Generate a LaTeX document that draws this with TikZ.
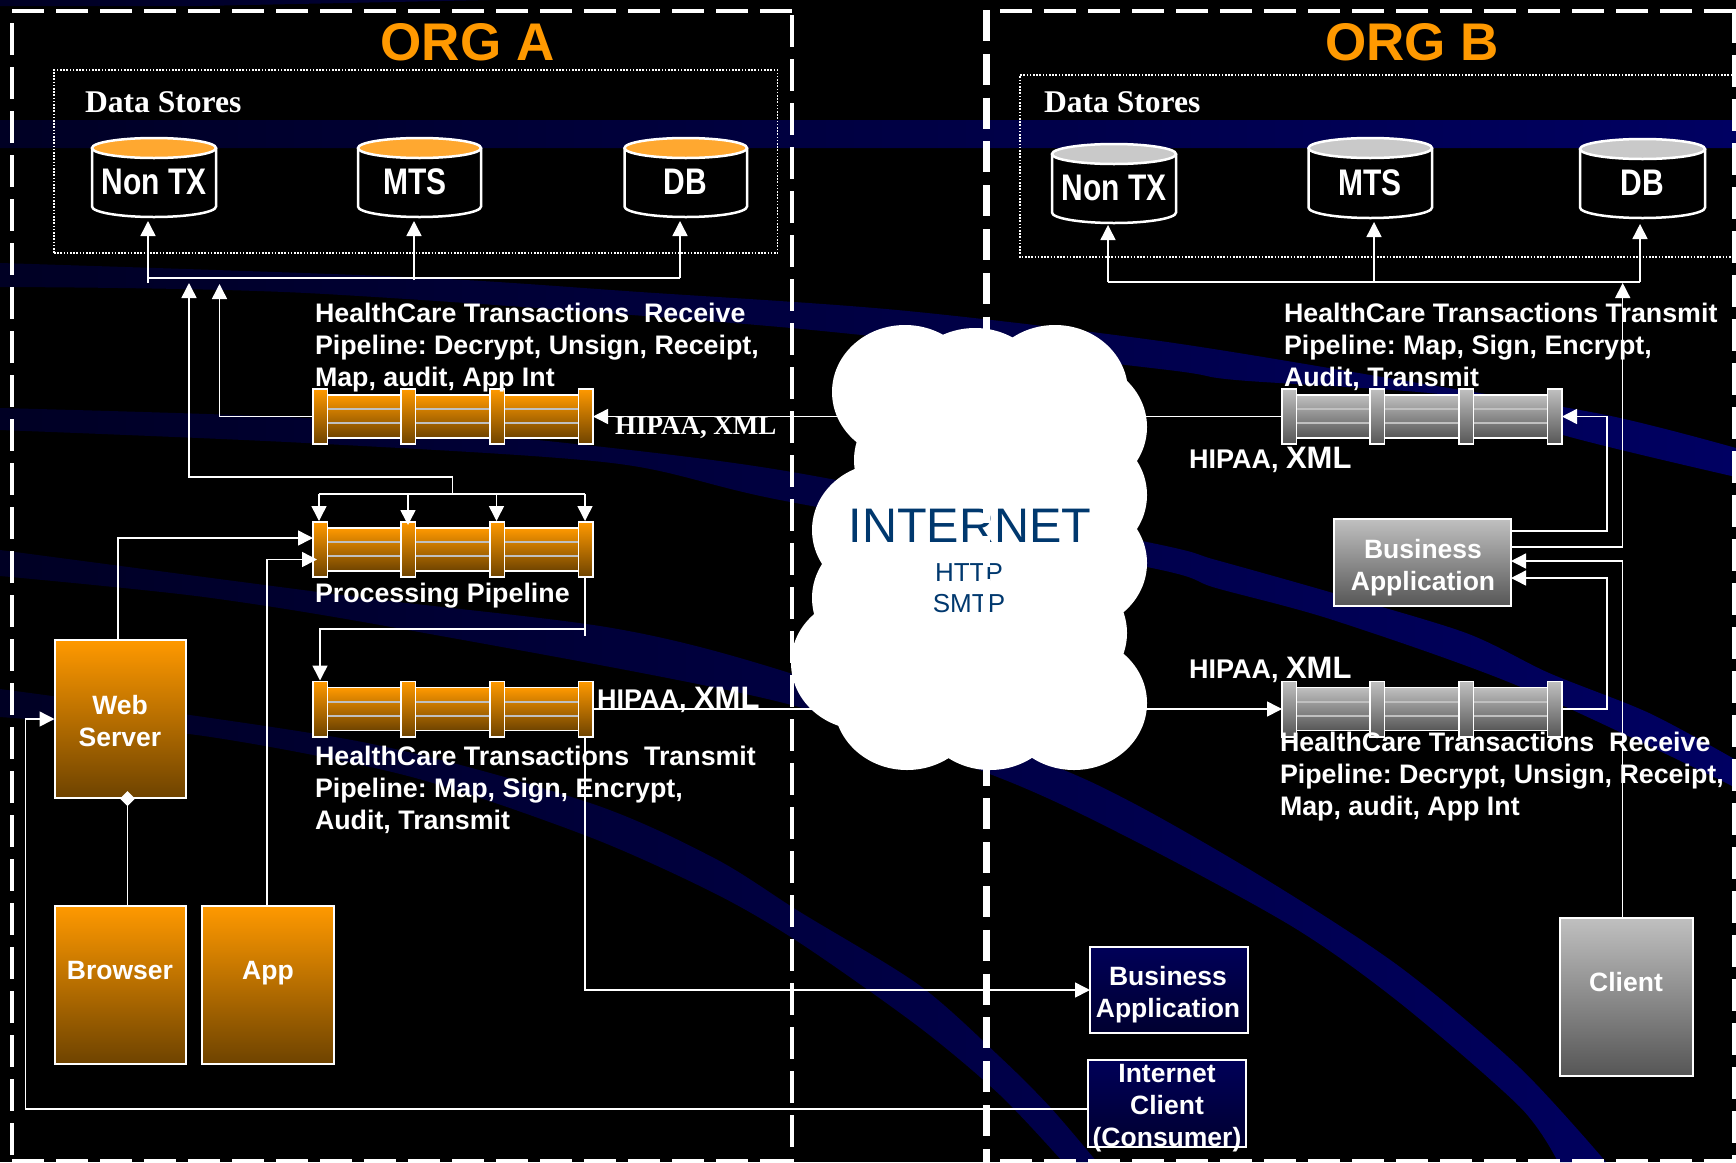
\documentclass[tikz,border=0pt]{standalone}
\usepackage{fontspec}
\setmainfont{Liberation Sans}
\newfontfamily\timesf{Liberation Serif}
\usetikzlibrary{arrows.meta}
\definecolor{orgO}{HTML}{FF9900}
\definecolor{orgT}{HTML}{FFA830}
\definecolor{orgD}{HTML}{6E4300}
\definecolor{gryT}{HTML}{C0C0C0}
\definecolor{gryD}{HTML}{565656}
\definecolor{netB}{HTML}{00386E}
\definecolor{navT}{HTML}{000058}
\definecolor{navD}{HTML}{000030}
\definecolor{navL}{HTML}{000024}
\definecolor{navM}{HTML}{00005C}
\definecolor{navR}{HTML}{000062}
\newcommand\fsz[2]{\fontsize{#1}{#2}\selectfont}
\newcommand\nar[2]{\scalebox{#1}[1]{#2}}
\tikzset{
  cn/.style={draw=white,line width=1.5pt},
  arr/.style={cn,-{Triangle[length=15pt,width=15pt]}},
  frameH/.style={draw=white,line width=4pt,dash pattern=on 32pt off 12pt},
  frameA/.style={draw=white,line width=3.5pt,dash pattern=on 32pt off 12pt},
  frameB/.style={draw=white,line width=7pt,dash pattern=on 31pt off 12.8pt},
  dots/.style={draw=white,line width=1.6pt,dash pattern=on 1.6pt off 1.6pt},
  hold/.style={inner sep=0pt,outer sep=0pt},
  boxO/.style={hold,draw=white,line width=2pt,top color=orgO,bottom color=orgD},
  boxG/.style={hold,draw=white,line width=2pt,top color=gryT,bottom color=gryD},
  boxN/.style={hold,draw=white,line width=2pt,top color=navT,bottom color=navD},
  lab/.style={hold,text=white,font=\fsz{26.5}{32}\bfseries,align=center},
  capt/.style={hold,text=white,font=\fsz{26.8}{32}\bfseries,align=left,anchor=north west},
  title/.style={hold,text=orgO,font=\fsz{53}{60}\bfseries,anchor=base},
  store/.style={hold,text=white,font=\timesf\fsz{31.6}{36}\bfseries,anchor=base west},
  cyltx/.style={hold,text=white,font=\fsz{37}{40}\bfseries},
  ser/.style={hold,text=white,font=\timesf\fsz{27}{30}\bfseries,anchor=base west},
  hip/.style={hold,text=white,font=\fsz{27}{30}\bfseries,anchor=base west},
  lobe/.style={fill=white},
}
% name, x1, x2, y1, y2, top colour, text, text x, text y
\newcommand\cyl[9]{%
  \node[hold,minimum width=#3pt-#2pt,minimum height=#5pt-#4pt] (#1) at ({(#2+#3)/2},{(#4+#5)/2}) {};
  \draw[white,line width=2.5pt,fill=black]
    ({#2+1},{#4+11}) -- ({#2+1},{#5-11.5}) arc[start angle=180,end angle=360,x radius={(#3-#2)/2-1},y radius=-10.5]
    -- ({#3-1},{#4+11});
  \filldraw[white,line width=2.5pt,fill=#6] ({(#2+#3)/2},{#4+11}) ellipse[x radius={(#3-#2)/2-1},y radius=10];
  \node[cyltx] (#1t) at (#8,#9) {#7};
}
% name, centre x, top y, colour top, colour bottom
\newcommand\pipe[5]{%
  \node[hold,minimum width=280pt,minimum height=57pt] (#1) at (#2,{#3+28.5}) {};
  \begin{scope}[shift={({#2-140},#3)}]
    \foreach \a/\b in {14.5/88,102.5/177,191.5/265.5}{
      \path[draw=white,line width=1.6pt,top color=#4,bottom color=#5] (\a,7) rectangle (\b,50);
      \draw[gryT,line width=2pt] (\a,21) -- (\b,21) (\a,35) -- (\b,35);
    }
    \foreach \a in {0,88,177,265.5}{
      \path[draw=white,line width=1.6pt,top color=#4,bottom color=#5] (\a,0.8) rectangle ({\a+14.5},56.2);
    }
  \end{scope}
}
\begin{document}
\frenchspacing
\begin{tikzpicture}[x=1pt,y=-1pt]
\useasboundingbox (0,0) rectangle (1736,1162);
\fill[black] (0,0) rectangle (1736,1162);
% background swooshes
\begin{scope}
\clip (0,120) rectangle (1736,148)
  (0,0) -- (490,0) -- (200,6) -- (0,6) -- cycle
  plot[smooth] coordinates {(0,263)(408,277)(640,292)(897,310)(1160,341)(1400,380)(1606,415)(1736,448)}
    -- plot[smooth] coordinates {(1736,477)(1563,435)(1463,397)(1236,380)(1160,369)(780,327)(306,293)(0,287)} -- cycle
  plot[smooth] coordinates {(0,408)(306,418)(510,437)(780,470)(1147,542)(1216,560)(1333,593)(1466,633)(1549,673)(1649,713)(1736,760)}
    -- plot[smooth] coordinates {(1736,790)(1716,778)(1516,685)(1333,620)(1216,588)(1147,567)(780,500)(612,463)(306,443)(0,430)} -- cycle
  plot[smooth] coordinates {(0,550)(357,597)(612,628)(780,670)(1033,758)(1133,803)(1267,880)(1400,967)(1520,1068)(1606,1162)}
    -- plot[smooth] coordinates {(1558,1162)(1520,1107)(1400,1003)(1293,927)(1133,840)(1000,778)(780,702)(408,630)(204,597)(0,576)} -- cycle
  plot[smooth] coordinates {(0,689)(357,741)(587,802)(714,858)(800,912)(919,985)(1000,1057)(1050,1107)(1097,1162)}
    -- plot[smooth] coordinates {(1063,1162)(1000,1095)(919,1027)(800,943)(714,893)(587,836)(408,776)(204,736)(0,717)} -- cycle;
\shade[left color=navL,middle color=navM,right color=navR] (0,0) rectangle (1736,1162);
\end{scope}
% boxes as nodes
\node[boxO,minimum width=131.5pt,minimum height=158pt] (web) at (120.25,719) {};
\node[boxO,minimum width=131.5pt,minimum height=158pt] (browser) at (120.25,985) {};
\node[boxO,minimum width=132pt,minimum height=158pt] (app) at (268,985) {};
\node[boxN,minimum width=158pt,minimum height=86.5pt] (bizO) at (1169,990) {};
\node[boxN,minimum width=158pt,minimum height=87pt] (inet) at (1167,1103.5) {};
\node[boxG,minimum width=177pt,minimum height=87pt] (bizB) at (1422.5,562.5) {};
\node[boxG,minimum width=133pt,minimum height=158pt] (client) at (1626.5,996.5) {};
% data stores
\node[hold,dots,minimum width=723.5pt,minimum height=183pt] (dsA) at (415.75,161.5) {};
\draw[dots] (1745,75) -- (1020,75) -- (1020,257) -- (1745,257);
\cyl{ntxA}{91}{217}{137}{218}{orgT}{\nar{.81}{Non TX}}{154}{182}
\cyl{mtsA}{357}{482}{137}{218}{orgT}{\nar{.81}{MTS}}{415}{182}
\cyl{dbA}{623.5}{748}{137}{218}{orgT}{\nar{.81}{DB}}{685}{182}
\cyl{ntxB}{1051}{1177}{143}{224}{gryT!85!white}{\nar{.81}{Non TX}}{1114}{188}
\cyl{mtsB}{1307.5}{1433}{137}{219}{gryT!85!white}{\nar{.81}{MTS}}{1370}{183}
\cyl{dbB}{1579}{1706}{138}{219}{gryT!85!white}{\nar{.81}{DB}}{1642}{183}
% pipelines
\pipe{rcvA}{453}{388}{orgO}{orgD}
\pipe{procP}{453}{521}{orgO}{orgD}
\pipe{txA}{453}{680.5}{orgO}{orgD}
\pipe{txB}{1422}{388}{gryT}{gryD}
\pipe{rcvB}{1422}{680.5}{gryT}{gryD}
% connectors, org A
\coordinate (busA0) at (148,283);
\coordinate (busA1) at (414,280);
\coordinate (busA2) at (680,278);
\draw[arr,shorten >=3pt] (busA0) -- (ntxA.south -| busA0);
\draw[arr,shorten >=3pt] (busA1) -- (mtsA.south -| busA1);
\draw[arr,shorten >=3pt] (busA2) -- (dbA.south -| busA2);
\draw[cn] (busA0 |- busA2) -- (busA2);
\coordinate (busP) at (452.5,494);
\coordinate (upA1) at (189,283);
\coordinate (upA2) at (219.5,284);
\draw[arr] (busP) |- (upA1 |- 0,477) -- (upA1);
\draw[arr] (rcvA.west) -| (upA2);
\draw[cn] (319,494) -- (585,494);
\coordinate (pd1) at (319,494);
\coordinate (pd2) at (408,494);
\coordinate (pd3) at (496.5,494);
\coordinate (pd4) at (585,494);
\draw[arr] (pd1) -- (procP.north -| pd1);
\draw[arr,shorten >=-4pt] (pd2) -- (procP.north -| pd2);
\draw[arr] (pd3) -- (procP.north -| pd3);
\draw[arr] (pd4) -- (procP.north -| pd4);
\coordinate (wsUp) at (118,538);
\coordinate (apUp) at (267,559.5);
\draw[arr] (web.north -| wsUp) |- (procP.west |- wsUp);
\draw[arr,shorten >=-4pt] (app.north -| apUp) |- (procP.west |- apUp);
\coordinate (brUp) at (127.5,800);
\draw[cn,-{Diamond[length=15pt,width=15pt]},shorten >=-7pt] (browser.north -| brUp) -- (web.south -| brUp);
\coordinate (pp1) at (585,636);
\coordinate (pp2) at (585,629);
\coordinate (pp3) at (320,629);
\draw[cn] (procP.south -| pp1) -- (pp1);
\draw[arr] (pp2) -- (pp3) -- (txA.north -| pp3);
\draw[arr] (txA.south -| pp2) |- (bizO.west);
\coordinate (ic0) at (25.5,1109);
\draw[arr] (inet.west |- ic0) -- (ic0) |- (web.west);
% across the cloud
\draw[arr] (txB.west) -- (rcvA.east);
\draw[arr] (txA.east) -- (rcvB.west);
% connectors, org B
\coordinate (busB0) at (1108,282);
\coordinate (busB1) at (1374,282);
\coordinate (busB2) at (1640,282);
\draw[cn] (busB0) -- (busB2);
\draw[arr,shorten >=1pt] (busB0) -- (ntxB.south -| busB0);
\draw[arr,shorten >=3pt] (busB1) -- (mtsB.south -| busB1);
\draw[arr,shorten >=5pt] (busB2) -- (dbB.south -| busB2);
\coordinate (rb1) at (1607,531);
\coordinate (rb2) at (1622.7,547);
\coordinate (rb3) at (1622.7,561);
\coordinate (rb4) at (1607,578);
\coordinate (upB) at (1622.7,283);
\draw[arr] (bizB.east |- rb1) -- (rb1) |- (txB.east);
\draw[arr] (bizB.east |- rb2) -- (rb2) -- (upB);
\draw[arr] (client.north -| rb3) -- (rb3) -- (bizB.east |- rb3);
\draw[arr] (rcvB.east) -| (rb4) -- (bizB.east |- rb4);
% cloud
\foreach \cx/\cy in {905/392,975/395,1055/392,1074/427,1074/495,1074/563,1054/633,1074/703,990/703,907/703,864/663,885/598,885/530,927/460}{
  \fill[lobe] (\cx,\cy) ellipse[x radius=73,y radius=67];
}
\fill[lobe] (900,400) rectangle (1100,700);
\node[hold,text=netB,font=\fsz{48.5}{52},anchor=base] (net) at (970,542) {INTERNET};
\node[hold,text=netB,font=\fsz{26}{30},anchor=base] (http) at (969,581) {HTTP};
\node[hold,text=netB,font=\fsz{26}{30},anchor=base] (smtp) at (969,612) {SMTP};
% dashed frames
\path[frameH] (12,11) -- (792,11);
\path[frameH] (12,1161) -- (792,1161);
\path[frameA] (12,23) -- (12,1170);
\path[frameA] (792,15) -- (792,1170);
\path[frameH] (1000,11) -- (1740,11);
\path[frameH] (1000,1161) -- (1740,1161);
\path[frameB] (986,10) -- (986,1170);
\path[frameA] (1734,11) -- (1734,1170);
% texts
\node[title] (tA) at (467.5,60) {ORG A};
\node[title] (tB) at (1412,60) {ORG B};
\node[store] (sA) at (85,112) {Data Stores};
\node[store] (sB) at (1044,112) {Data Stores};
\node[capt] (c1) at (315,303) {HealthCare Transactions\ \ Receive\\Pipeline: Decrypt, Unsign, Receipt,\\Map, audit, App Int};
\node[capt] (c2) at (315,583) {Processing Pipeline};
\node[capt] (c3) at (315,746.5) {HealthCare Transactions\ \ Transmit\\Pipeline: Map, Sign, Encrypt,\\Audit, Transmit};
\node[capt] (c4) at (1284,303) {HealthCare Transactions Transmit\\Pipeline: Map, Sign, Encrypt,\\Audit, Transmit};
\node[capt] (c5) at (1280,732.5) {HealthCare Transactions\ \ Receive\\Pipeline: Decrypt, Unsign, Receipt,\\Map, audit, App Int};
\node[ser] (h1) at (615,434) {HIPAA, XML};
\node[hip] (h2) at (597,708) {HIPAA, {\fsz{31}{30}XML}};
\node[hip] (h3) at (1189,468) {HIPAA, {\fsz{31}{30}XML}};
\node[hip] (h4) at (1189,678) {HIPAA, {\fsz{31}{30}XML}};
\node[lab] (lweb) at (120,721) {Web\\Server};
\node[lab,anchor=base] (lbr) at (120,979) {Browser};
\node[lab,anchor=base] (lap) at (268,979) {App};
\node[lab] (lbo) at (1168,994.5) {Business\\Application};
\node[lab] (lin) at (1167,1108) {Internet\\Client\\(Consumer)};
\node[lab] (lbb) at (1423,567.5) {Business\\Application};
\node[lab,anchor=base] (lcl) at (1626,991) {Client};
\end{tikzpicture}
\end{document}
